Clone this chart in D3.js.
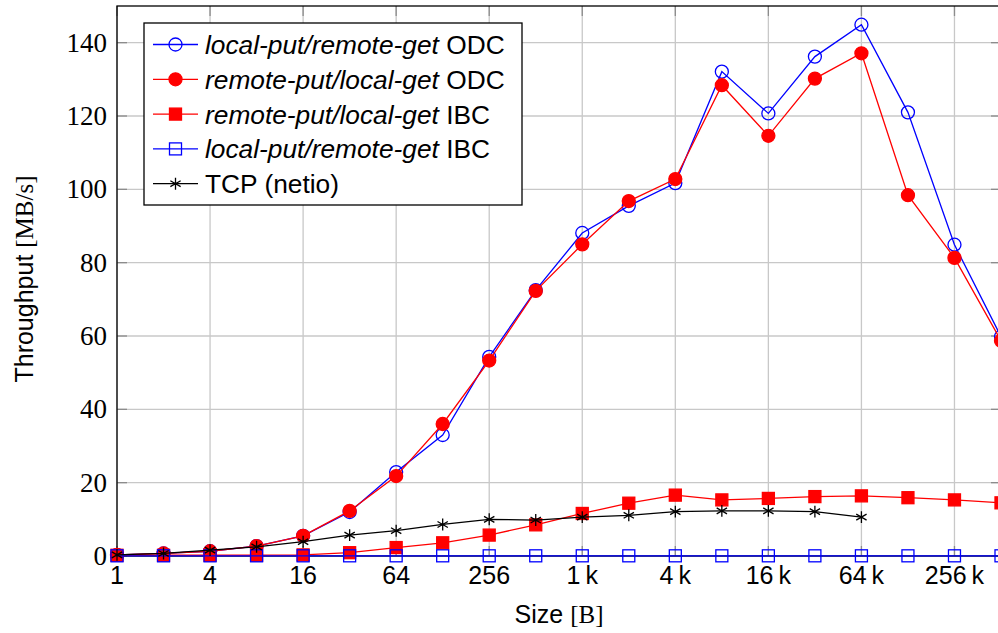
<!DOCTYPE html>
<html>
<head>
<meta charset="utf-8">
<script src="https://cdn.jsdelivr.net/npm/d3@7"></script>
<style>
  html, body { margin: 0; padding: 0; background: #fff; }
  svg { display: block; }
  .sans { font-family: "Liberation Sans", Arial, sans-serif; }
  .serif { font-family: "Liberation Serif", "DejaVu Serif", serif; }
</style>
</head>
<body>
<svg id="chart" width="998" height="633"></svg>
<script>
// message sizes in bytes: 2^0 .. 2^19
const sizes = d3.range(20).map(i => Math.pow(2, i));

const odcLocalPut = [0.3, 0.7, 1.3, 2.7, 5.5, 12.0, 22.9, 33.0, 54.3, 72.5,
  88.1, 95.5, 101.7, 132.1, 120.7, 136.2, 144.9, 121.0, 84.9, 59.8];
const odcRemotePut = [0.3, 0.7, 1.3, 2.7, 5.5, 12.3, 21.8, 36.0, 53.3, 72.3,
  85.0, 96.8, 102.8, 128.4, 114.6, 130.2, 137.1, 98.4, 81.3, 58.7];
const ibcRemotePut = [0.2, 0.2, 0.2, 0.2, 0.3, 0.9, 2.3, 3.6, 5.7, 8.5,
  11.6, 14.4, 16.6, 15.3, 15.7, 16.2, 16.4, 15.9, 15.3, 14.5];
const ibcLocalPut = [0.05, 0.05, 0.05, 0.05, 0.05, 0.05, 0.05, 0.05, 0.05, 0.05,
  0.05, 0.05, 0.05, 0.05, 0.05, 0.05, 0.05, 0.05, 0.05, 0.05];
const tcpNetio = [0.3, 0.7, 1.6, 2.5, 3.9, 5.7, 6.9, 8.6, 10.0, 9.8,
  10.6, 11.1, 12.1, 12.3, 12.3, 12.1, 10.6];

const xTicks = [1, 4, 16, 64, 256, 1024, 4096, 16384, 65536, 262144];
const xTickLabels = ['1', '4', '16', '64', '256', '1\u2009k', '4\u2009k', '16\u2009k', '64\u2009k', '256\u2009k'];
const yTicks = [0, 20, 40, 60, 80, 100, 120, 140];

const series = [
  { name: 'local-put/remote-get', suffix: ' ODC', values: odcLocalPut, color: '#0000ff', mark: 'circle', fill: 'none' },
  { name: 'remote-put/local-get', suffix: ' ODC', values: odcRemotePut, color: '#ff0000', mark: 'circle', fill: '#ff0000' },
  { name: 'remote-put/local-get', suffix: ' IBC', values: ibcRemotePut, color: '#ff0000', mark: 'square', fill: '#ff0000' },
  { name: 'local-put/remote-get', suffix: ' IBC', values: ibcLocalPut, color: '#0000ff', mark: 'square', fill: 'none' },
  { name: null, suffix: 'TCP (netio)', values: tcpNetio, color: '#000000', mark: 'star', fill: 'none' }
];

const svg = d3.select('#chart');
const pLeft = 117, pRight = 1001, pTop = 6, pBottom = 556;

const x = d3.scaleLog().base(2).domain([1, Math.pow(2, 19)]).range([pLeft, pRight]);
const y = d3.scaleLinear().domain([0, 150]).range([pBottom, pTop]);

// grid
const grid = svg.append('g').attr('stroke', '#c8c8c8').attr('stroke-width', 1.3);
grid.selectAll('line.gx').data(xTicks).join('line')
  .attr('x1', d => x(d)).attr('x2', d => x(d))
  .attr('y1', pTop).attr('y2', pBottom);
grid.selectAll('line.gy').data(yTicks).join('line')
  .attr('x1', pLeft).attr('x2', pRight)
  .attr('y1', d => y(d)).attr('y2', d => y(d));

// ticks inside on all four sides
const tl = 10;
const ticks = svg.append('g').attr('stroke', '#8c8c8c').attr('stroke-width', 1.3);
xTicks.forEach(t => {
  ticks.append('line').attr('x1', x(t)).attr('x2', x(t)).attr('y1', pBottom).attr('y2', pBottom - tl);
  ticks.append('line').attr('x1', x(t)).attr('x2', x(t)).attr('y1', pTop).attr('y2', pTop + tl);
});
yTicks.forEach(t => {
  ticks.append('line').attr('x1', pLeft).attr('x2', pLeft + tl).attr('y1', y(t)).attr('y2', y(t));
  ticks.append('line').attr('x1', pRight).attr('x2', pRight - tl).attr('y1', y(t)).attr('y2', y(t));
});

// frame
svg.append('rect')
  .attr('x', pLeft).attr('y', pTop)
  .attr('width', pRight - pLeft).attr('height', pBottom - pTop)
  .attr('fill', 'none').attr('stroke', '#000').attr('stroke-width', 1.3);

// tick labels
svg.append('g').selectAll('text').data(xTicks).join('text')
  .attr('class', 'sans')
  .attr('x', d => x(d)).attr('y', 584)
  .attr('text-anchor', 'middle')
  .attr('font-size', 25)
  .text((d, i) => xTickLabels[i]);

svg.append('g').selectAll('text').data(yTicks).join('text')
  .attr('class', 'serif')
  .attr('x', 107).attr('y', d => y(d))
  .attr('dy', '0.33em')
  .attr('text-anchor', 'end')
  .attr('font-size', 27)
  .text(d => d);

// axis labels
const xl = svg.append('text')
  .attr('x', (pLeft + pRight) / 2).attr('y', 623)
  .attr('text-anchor', 'middle').attr('font-size', 25);
xl.append('tspan').attr('class', 'sans').text('Size ');
xl.append('tspan').attr('class', 'serif').text('[B]');

const yl = svg.append('text')
  .attr('transform', `translate(33,${(pTop + pBottom) / 2 - 2}) rotate(-90)`)
  .attr('text-anchor', 'middle').attr('font-size', 25);
yl.append('tspan').attr('class', 'sans').text('Throughput ');
yl.append('tspan').attr('class', 'serif').text('[MB/s]');

// markers
function drawMark(g, s, cx, cy) {
  if (s.mark === 'circle') {
    g.append('circle').attr('cx', cx).attr('cy', cy).attr('r', 6.5)
      .attr('fill', s.fill).attr('stroke', s.color).attr('stroke-width', 1.3);
  } else if (s.mark === 'square') {
    g.append('rect').attr('x', cx - 6).attr('y', cy - 6).attr('width', 12).attr('height', 12)
      .attr('fill', s.fill).attr('stroke', s.color).attr('stroke-width', 1.3);
  } else {
    g.append('path')
      .attr('d', d3.symbol().type(d3.symbolAsterisk).size(100)())
      .attr('transform', `translate(${cx},${cy})`)
      .attr('fill', 'none').attr('stroke', s.color).attr('stroke-width', 1.3);
  }
}

const line = d3.line()
  .x((d, i) => x(sizes[i]))
  .y(d => y(d));

const plot = svg.append('g');
series.forEach(s => {
  const g = plot.append('g');
  g.append('path')
    .attr('d', line(s.values))
    .attr('fill', 'none').attr('stroke', s.color).attr('stroke-width', 1.3);
  s.values.forEach((v, i) => drawMark(g, s, x(sizes[i]), y(v)));
});

// legend
const lg = svg.append('g');
lg.append('rect')
  .attr('x', 144).attr('y', 23).attr('width', 378).attr('height', 182)
  .attr('fill', '#fff').attr('stroke', '#000').attr('stroke-width', 1.3);
series.forEach((s, i) => {
  const cy = 44.5 + i * 34.8;
  const g = lg.append('g');
  g.append('line').attr('x1', 153).attr('x2', 198).attr('y1', cy).attr('y2', cy)
    .attr('stroke', s.color).attr('stroke-width', 1.3);
  drawMark(g, s, 175.5, cy);
  const t = g.append('text').attr('class', 'sans')
    .attr('x', 205).attr('y', cy).attr('dy', '0.36em').attr('font-size', 26.3);
  if (s.name) t.append('tspan').attr('font-style', 'italic').text(s.name);
  t.append('tspan').text(s.suffix);
});
</script>
</body>
</html>
